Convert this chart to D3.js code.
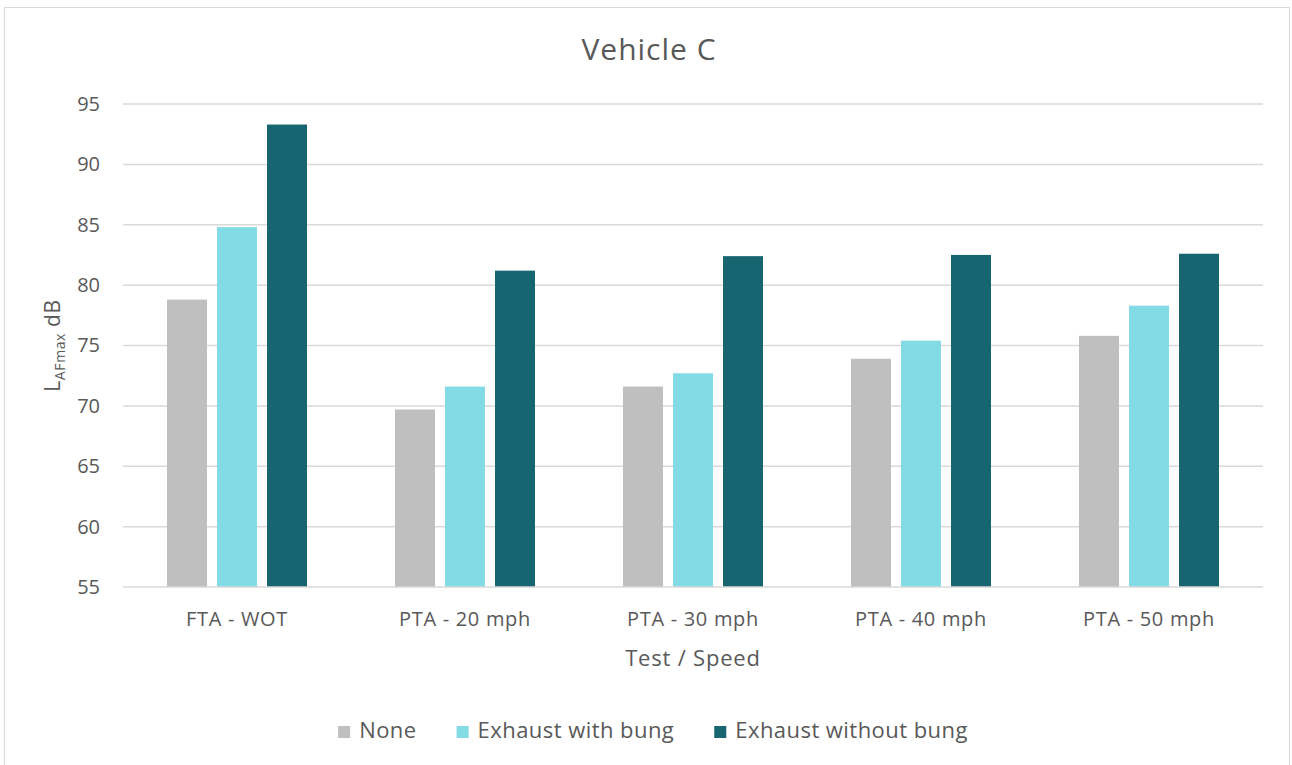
<!DOCTYPE html>
<html>
<head>
<meta charset="utf-8">
<script src="https://cdn.jsdelivr.net/npm/d3@7"></script>
<style>
  html, body { margin: 0; padding: 0; background: #fff; }
  svg { display: block; }
  text { font-family: "Open Sans", "Noto Sans", sans-serif; fill: #595959; }
</style>
</head>
<body>
<svg id="chart" width="1292" height="765"></svg>
<script>
// Test conditions along the x axis
const categories = ["FTA - WOT", "PTA - 20 mph", "PTA - 30 mph", "PTA - 40 mph", "PTA - 50 mph"];
// Exhaust configurations (one bar each per test)
const seriesNames = ["None", "Exhaust with bung", "Exhaust without bung"];
// LAFmax levels in dB
const noneValues        = [78.8, 69.7, 71.6, 73.9, 75.8];
const withBungValues    = [84.8, 71.6, 72.7, 75.4, 78.3];
const withoutBungValues = [93.3, 81.2, 82.4, 82.5, 82.6];
const yTicks = [55, 60, 65, 70, 75, 80, 85, 90, 95];
const seriesColors = ["#BFBFBF", "#83DBE6", "#166570"];

const seriesValues = [noneValues, withBungValues, withoutBungValues];
const rows = categories.map((c, i) => ({
  category: c,
  values: seriesNames.map((s, j) => ({ series: s, idx: j, value: seriesValues[j][i] }))
}));

const svg = d3.select("#chart");
const plot = { left: 123, right: 1263, top: 104, bottom: 587 };

// Outer chart frame
svg.append("rect")
  .attr("x", 4.5).attr("y", 7.5)
  .attr("width", 1285).attr("height", 770)
  .attr("fill", "#fff").attr("stroke", "#D9D9D9").attr("stroke-width", 1);

const x0 = d3.scaleBand().domain(categories).range([plot.left, plot.right]).padding(0);
const groupWidth = 140;
const x1 = d3.scaleBand().domain(seriesNames)
  .range([(x0.bandwidth() - groupWidth) / 2, (x0.bandwidth() + groupWidth) / 2])
  .paddingInner(0.2).paddingOuter(0);
const y = d3.scaleLinear().domain([55, 95]).range([plot.bottom, plot.top]);

// Horizontal gridlines
svg.append("g").selectAll("line").data(yTicks.filter(t => t !== 55)).join("line")
  .attr("x1", plot.left).attr("x2", plot.right)
  .attr("y1", d => y(d)).attr("y2", d => y(d))
  .attr("stroke", "#D9D9D9").attr("stroke-width", 1.5);

// Y tick labels
const yAxis = d3.axisLeft(y).tickValues(yTicks).tickSize(0).tickPadding(0).tickFormat(d3.format("d"));
const yg = svg.append("g").attr("transform", `translate(${plot.left - 23},0)`).call(yAxis);
yg.select(".domain").remove();
yg.selectAll("text").style("font-size", "20px").attr("fill", "#595959")
  .style("font-family", "'Open Sans', sans-serif");

// Bars
const groups = svg.append("g").selectAll("g").data(rows).join("g")
  .attr("transform", d => `translate(${x0(d.category)},0)`);
groups.selectAll("rect").data(d => d.values).join("rect")
  .attr("x", d => x1(d.series))
  .attr("width", x1.bandwidth())
  .attr("y", d => y(d.value))
  .attr("height", d => y(55) - y(d.value))
  .attr("fill", d => seriesColors[d.idx]);

// Category axis
const xAxis = d3.axisBottom(x0).tickSize(0).tickPadding(0);
const xg = svg.append("g").attr("transform", `translate(0,${plot.bottom})`).call(xAxis);
xg.select(".domain").attr("stroke", "#D9D9D9").attr("stroke-width", 1.5)
  .attr("d", `M${plot.left},0H${plot.right}`);
xg.selectAll("text").attr("dy", null).attr("y", 39)
  .style("font-size", "20px").style("letter-spacing", "0.7px").attr("fill", "#595959")
  .style("font-family", "'Open Sans', sans-serif");

// Title
svg.append("text").attr("x", 649).attr("y", 60).attr("text-anchor", "middle")
  .style("font-size", "30px").style("letter-spacing", "1px").text("Vehicle C");

// Axis titles
svg.append("text").attr("x", 693).attr("y", 666).attr("text-anchor", "middle")
  .style("font-size", "22px").style("letter-spacing", "0.8px").text("Test / Speed");

const yTitle = svg.append("text")
  .attr("transform", `translate(60,${(plot.top + plot.bottom) / 2}) rotate(-90)`)
  .attr("text-anchor", "middle").style("font-size", "21px").style("letter-spacing", "0.6px");
yTitle.append("tspan").text("L");
yTitle.append("tspan").attr("dy", 5).style("font-size", "14px").text("AFmax");
yTitle.append("tspan").attr("dy", -5).text(" dB");

// Legend
const legend = svg.append("g");
const items = legend.selectAll("g").data(seriesNames).join("g");
items.append("rect").attr("width", 12).attr("height", 12).attr("y", -12)
  .attr("fill", (d, i) => seriesColors[i]);
items.append("text").attr("x", 21).attr("y", 0)
  .style("font-size", "22px").style("letter-spacing", "0.45px").text(d => d);
const legendGap = 40;
let cx = 0;
const offsets = [];
items.each(function () {
  offsets.push(cx);
  cx += this.getBBox().width + legendGap;
});
const totalW = cx - legendGap;
const lx = 653 - totalW / 2;
items.attr("transform", (d, i) => `translate(${lx + offsets[i]},738)`);
</script>
</body>
</html>
